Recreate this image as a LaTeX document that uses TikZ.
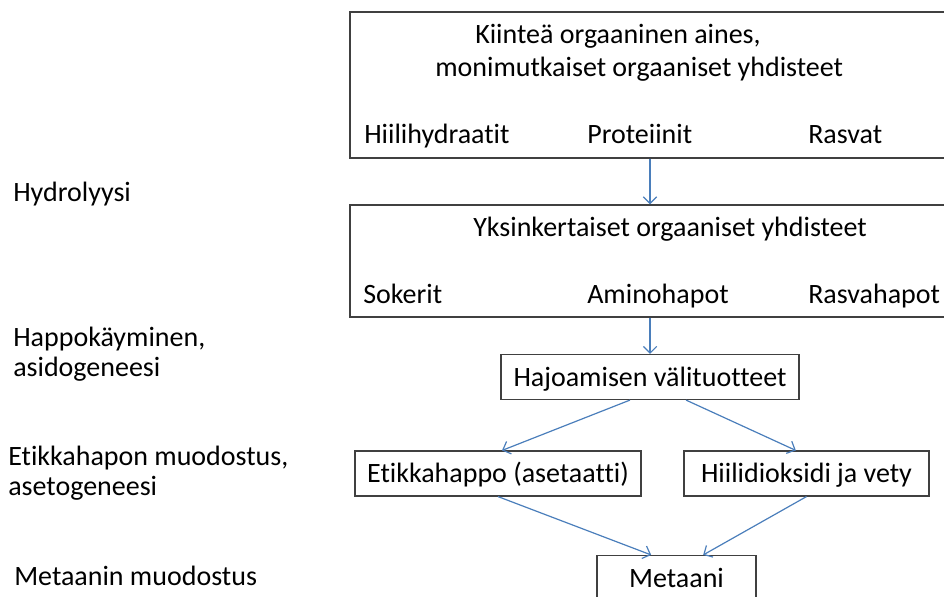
\documentclass[tikz,border=0pt]{standalone}
\usepackage{fontspec}
\setmainfont{Carlito}[Ligatures=NoCommon]
\usetikzlibrary{arrows.meta,fit}
\definecolor{edge}{HTML}{404040}
\definecolor{flow}{HTML}{4A7EBB}
\begin{document}
\begin{tikzpicture}[x=0.75pt,y=-0.75pt,
  every node/.style={font=\fontsize{21}{25}\selectfont, text=black},
  label/.style={anchor=base west, inner sep=0},
  frame/.style={draw=edge, line width=1.1pt, inner sep=0},
  stepbox/.style={frame, minimum height=33.5pt, text height=16pt, text depth=2.5pt},
  arr/.style={draw=flow, line width=0.9pt, -{Straight Barb[length=5pt,width=10pt]}}]
\useasboundingbox (0,0) rectangle (944,596);
\clip (0,0) rectangle (944,596);

% stage names on the left
\node[label] (l1)  at (13,201.7)  {Hydrolyysi};
\node[label] (l2a) at (13,346.7)  {Happokäyminen,};
\node[label] (l2b) at (13,376.7)  {asidogeneesi};
\node[label] (l3a) at (8,465)     {Etikkahapon muodostus,};
\node[label] (l3b) at (8,495)     {asetogeneesi};
\node[label] (l4)  at (14,585)    {Metaanin muodostus};

% complex organic matter
\node[frame, fit={(350,12) (948,158)}] (b1) {};
\node[label] (t1a) at (475,43)    {Kiinteä orgaaninen aines,};
\node[label] (t1b) at (435,76.7)  {monimutkaiset orgaaniset yhdisteet};
\node[label] (t1c) at (364,143)   {Hiilihydraatit};
\node[label] (t1d) at (587,143)   {Proteiinit};
\node[label] (t1e) at (808,143)   {Rasvat};

% simple organic compounds
\node[frame, fit={(350,205) (948,317)}] (b2) {};
\node[label] (t2a) at (473,236.7) {Yksinkertaiset orgaaniset yhdisteet};
\node[label] (t2b) at (363,303)   {Sokerit};
\node[label] (t2c) at (587,303)   {Aminohapot};
\node[label] (t2d) at (808,303)   {Rasvahapot};

% intermediate and final products
\node[stepbox, minimum width=223.5pt]  (h) at (650,377)    {Hajoamisen välituotteet};
\node[stepbox, minimum width=214.5pt]  (e) at (498,473.5)  {Etikkahappo (asetaatti)};
\node[stepbox, minimum width=183.75pt] (v) at (806.5,473.5){Hiilidioksidi ja vety};
\node[stepbox, minimum width=119.25pt] (m) at (676.5,578)  {Metaani};

% connectors
\draw[arr] (h.north |- b1.south) -- (h.north |- b2.north);
\draw[arr] (h.north |- b2.south) -- (h.north);
\draw[arr] ([xshift=-15pt]h.south) -- ([xshift=3pt]e.north);
\draw[arr] ([xshift=27pt]h.south) -- ([xshift=-8pt]v.north);
\draw[arr] (e.south) -- ([xshift=-19pt]m.north);
\draw[arr] (v.south) -- ([xshift=20pt]m.north);
\end{tikzpicture}
\end{document}
